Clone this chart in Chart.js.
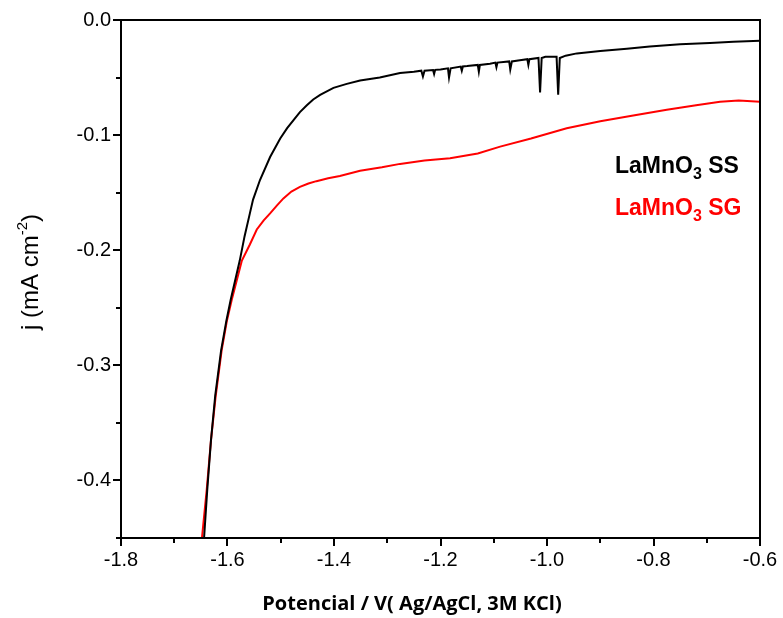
<!DOCTYPE html>
<html>
<head>
<meta charset="utf-8">
<script src="https://cdn.jsdelivr.net/npm/chart.js@4.4.0/dist/chart.umd.min.js"></script>
<style>
    html, body { margin: 0; padding: 0; background: #fff; }
    #wrap { width: 783px; height: 618px; position: relative; }
</style>
</head>
<body>
<div id="wrap"><canvas id="lsvChart"></canvas></div>
<script>
// LaMnO3 SS (black) - potential (V) and current density (mA cm-2)
const ssV = [-1.644, -1.638, -1.631, -1.623, -1.612, -1.602, -1.594, -1.577, -1.568, -1.558, -1.552, -1.539,
    -1.520, -1.501, -1.488, -1.476, -1.464, -1.451, -1.439, -1.426, -1.401, -1.376, -1.351, -1.314,
    -1.276, -1.250, -1.236, -1.233, -1.230, -1.214, -1.212, -1.210, -1.200, -1.186, -1.184, -1.181,
    -1.162, -1.160, -1.158, -1.150, -1.130, -1.128, -1.126, -1.107, -1.097, -1.095, -1.093, -1.071,
    -1.069, -1.066, -1.051, -1.037, -1.035, -1.033, -1.016, -1.013, -1.010, -1.003, -0.996, -0.982,
    -0.979, -0.976, -0.965, -0.944, -0.900, -0.850, -0.807, -0.750, -0.694, -0.650, -0.600];
const ssJ = [-0.450, -0.408, -0.365, -0.326, -0.287, -0.261, -0.243, -0.209, -0.188, -0.168, -0.156, -0.139,
    -0.119, -0.103, -0.094, -0.087, -0.080, -0.074, -0.069, -0.065, -0.059, -0.0555, -0.0525, -0.050,
    -0.046, -0.045, -0.044, -0.049, -0.044, -0.0435, -0.047, -0.0433, -0.043, -0.042, -0.050, -0.042,
    -0.0405, -0.044, -0.0403, -0.040, -0.039, -0.045, -0.039, -0.038, -0.037, -0.041, -0.037, -0.036,
    -0.043, -0.036, -0.035, -0.034, -0.039, -0.034, -0.033, -0.063, -0.033, -0.032, -0.032, -0.032,
    -0.065, -0.033, -0.031, -0.029, -0.027, -0.025, -0.023, -0.021, -0.020, -0.019, -0.018];

// LaMnO3 SG (red)
const sgV = [-1.648, -1.639, -1.631, -1.622, -1.611, -1.601, -1.592, -1.573, -1.558, -1.545, -1.532, -1.520,
    -1.507, -1.495, -1.480, -1.464, -1.448, -1.433, -1.411, -1.389, -1.351, -1.310, -1.276, -1.230,
    -1.182, -1.130, -1.088, -1.030, -0.963, -0.900, -0.838, -0.775, -0.720, -0.675, -0.640, -0.600];
const sgJ = [-0.450, -0.408, -0.365, -0.326, -0.287, -0.261, -0.243, -0.209, -0.195, -0.182, -0.174, -0.168,
    -0.161, -0.155, -0.149, -0.145, -0.142, -0.140, -0.1375, -0.1355, -0.131, -0.128, -0.125, -0.122,
    -0.120, -0.116, -0.110, -0.103, -0.094, -0.088, -0.083, -0.078, -0.074, -0.071, -0.070, -0.071];

const xTicks = [-1.8, -1.6, -1.4, -1.2, -1.0, -0.8, -0.6];
const xMinor = [-1.7, -1.5, -1.3, -1.1, -0.9, -0.7];
const yTicks = [0, -0.1, -0.2, -0.3, -0.4];
const yMinor = [-0.05, -0.15, -0.25, -0.35, -0.45];

const toPts = (xs, ys) => xs.map((x, i) => ({ x: x, y: ys[i] }));

// frame, minor ticks, axis titles and the in-plot legend
const decorPlugin = {
    id: 'decor',
    afterDraw(chart) {
        const ctx = chart.ctx;
        const a = chart.chartArea;
        const xs = chart.scales.x, ys = chart.scales.y;
        ctx.save();
        ctx.strokeStyle = '#000';
        ctx.lineWidth = 2;
        ctx.strokeRect(a.left, a.top, a.right - a.left, a.bottom - a.top);

        ctx.beginPath();
        xMinor.forEach(v => {
            const px = Math.round(xs.getPixelForValue(v));
            ctx.moveTo(px, a.bottom); ctx.lineTo(px, a.bottom + 5);
        });
        yMinor.forEach(v => {
            const py = Math.round(ys.getPixelForValue(v));
            ctx.moveTo(a.left, py); ctx.lineTo(a.left - 5, py);
        });
        ctx.stroke();

        // x title
        ctx.fillStyle = '#000';
        ctx.font = 'bold 20px "Open Sans"';
        ctx.textAlign = 'center';
        ctx.textBaseline = 'middle';
        ctx.fillText('Potencial / V( Ag/AgCl, 3M KCl)', 412, 604);

        // y title with superscript
        ctx.save();
        ctx.translate(30, 272);
        ctx.rotate(-Math.PI / 2);
        const big = '24px "Liberation Sans"', small = '15px "Liberation Sans"';
        ctx.font = big;
        const p1 = 'j (mA cm', p3 = ')';
        const w1 = ctx.measureText(p1).width, w3 = ctx.measureText(p3).width;
        ctx.font = small;
        const w2 = ctx.measureText('-2').width;
        let x0 = -(w1 + w2 + w3) / 2;
        ctx.textAlign = 'left';
        ctx.textBaseline = 'alphabetic';
        ctx.font = big; ctx.fillText(p1, x0, 8);
        ctx.font = small; ctx.fillText('-2', x0 + w1, -3);
        ctx.font = big; ctx.fillText(p3, x0 + w1 + w2, 8);
        ctx.restore();

        // legend
        const drawLabel = (suffix, color, y) => {
            const f1 = 'bold 23px "Liberation Sans"', f2 = 'bold 16px "Liberation Sans"';
            ctx.fillStyle = color;
            ctx.textAlign = 'left';
            ctx.textBaseline = 'alphabetic';
            let x = 615;
            ctx.font = f1; ctx.fillText('LaMnO', x, y); x += ctx.measureText('LaMnO').width;
            ctx.font = f2; ctx.fillText('3', x, y + 6); x += ctx.measureText('3').width;
            ctx.font = f1; ctx.fillText(' ' + suffix, x, y);
        };
        drawLabel('SS', '#000', 173);
        drawLabel('SG', '#ff0000', 215);
        ctx.restore();
    }
};

const ctxLsv = document.getElementById('lsvChart').getContext('2d');
new Chart(ctxLsv, {
    type: 'scatter',
    data: {
        datasets: [{
            label: 'LaMnO3 SS',
            data: toPts(ssV, ssJ),
            borderColor: '#000000',
            borderWidth: 2,
            showLine: true,
            pointRadius: 0,
            tension: 0
        }, {
            label: 'LaMnO3 SG',
            data: toPts(sgV, sgJ),
            borderColor: '#ff0000',
            borderWidth: 2,
            showLine: true,
            pointRadius: 0,
            tension: 0
        }]
    },
    options: {
        responsive: true,
        maintainAspectRatio: false,
        animation: false,
        layout: { padding: { top: 20, right: 23, left: 0, bottom: 0 } },
        plugins: {
            legend: { display: false },
            tooltip: { enabled: false }
        },
        scales: {
            x: {
                min: -1.8,
                max: -0.6,
                afterBuildTicks: s => { s.ticks = xTicks.map(v => ({ value: v })); },
                afterFit: s => { s.height = 80; },
                border: { display: true, color: '#000', width: 2 },
                grid: { drawOnChartArea: false, drawTicks: true, tickLength: 8, color: '#000', lineWidth: 2 },
                ticks: {
                    color: '#000',
                    padding: 2,
                    maxRotation: 0,
                    font: { family: '"Liberation Sans"', size: 20 },
                    callback: v => v.toFixed(1)
                }
            },
            y: {
                min: -0.45,
                max: 0,
                afterBuildTicks: s => { s.ticks = yTicks.map(v => ({ value: v })); },
                afterFit: s => { s.width = 121; },
                border: { display: true, color: '#000', width: 2 },
                grid: { drawOnChartArea: false, drawTicks: true, tickLength: 8, color: '#000', lineWidth: 2 },
                ticks: {
                    color: '#000',
                    padding: 2,
                    font: { family: '"Liberation Sans"', size: 20 },
                    callback: v => (Math.abs(v) < 1e-9 ? 0 : v).toFixed(1)
                }
            }
        }
    },
    plugins: [decorPlugin]
});
</script>
</body>
</html>
